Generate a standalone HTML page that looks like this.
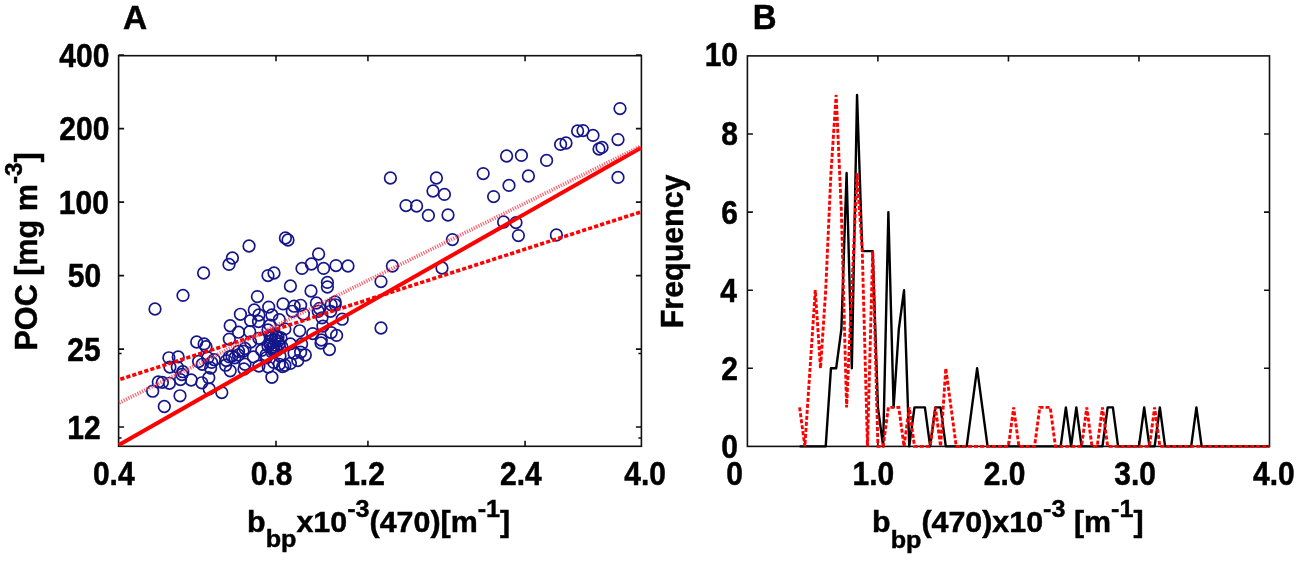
<!DOCTYPE html>
<html><head><meta charset="utf-8"><title>POC vs bbp</title>
<style>html,body{margin:0;padding:0;background:#fff;}body{width:1299px;height:561px;overflow:hidden;}svg{display:block;will-change:transform;}</style>
</head><body>
<svg width="1299" height="561" viewBox="0 0 1299 561">
<rect width="1299" height="561" fill="#fff"/>
<rect x="118.60" y="55.70" width="522.80" height="390.60" fill="none" stroke="#111" stroke-width="1.6"/>
<path d="M118.60 426.96h5.5M641.40 426.96h-5.5M118.60 349.12h5.5M641.40 349.12h-5.5M118.60 275.61h5.5M641.40 275.61h-5.5M118.60 202.10h5.5M641.40 202.10h-5.5M118.60 128.59h5.5M641.40 128.59h-5.5M118.60 55.08h5.5M641.40 55.08h-5.5M118.60 353.50h3M641.40 353.50h-3M118.60 438.00h3M641.40 438.00h-3M276.01 446.30v-5.5M276.01 55.70v5.5M367.93 446.30v-5.5M367.93 55.70v5.5M525.07 446.30v-5.5M525.07 55.70v5.5" stroke="#111" stroke-width="1.6" fill="none"/>
<g fill="none" stroke="#16168c" stroke-width="1.7">
<circle cx="620.0" cy="108.6" r="5.8"/>
<circle cx="577.6" cy="131.0" r="5.8"/>
<circle cx="583.0" cy="130.6" r="5.8"/>
<circle cx="593.0" cy="135.4" r="5.8"/>
<circle cx="618.0" cy="139.6" r="5.8"/>
<circle cx="560.6" cy="144.4" r="5.8"/>
<circle cx="566.0" cy="143.0" r="5.8"/>
<circle cx="599.0" cy="149.0" r="5.8"/>
<circle cx="602.0" cy="147.4" r="5.8"/>
<circle cx="506.6" cy="156.0" r="5.8"/>
<circle cx="521.4" cy="155.4" r="5.8"/>
<circle cx="546.6" cy="160.4" r="5.8"/>
<circle cx="618.0" cy="177.4" r="5.8"/>
<circle cx="528.4" cy="176.0" r="5.8"/>
<circle cx="483.2" cy="173.6" r="5.8"/>
<circle cx="509.0" cy="185.4" r="5.8"/>
<circle cx="390.4" cy="178.0" r="5.8"/>
<circle cx="436.4" cy="178.0" r="5.8"/>
<circle cx="433.0" cy="191.0" r="5.8"/>
<circle cx="444.4" cy="194.4" r="5.8"/>
<circle cx="493.6" cy="196.6" r="5.8"/>
<circle cx="406.0" cy="205.6" r="5.8"/>
<circle cx="416.6" cy="206.0" r="5.8"/>
<circle cx="428.4" cy="215.4" r="5.8"/>
<circle cx="448.0" cy="215.0" r="5.8"/>
<circle cx="452.4" cy="239.6" r="5.8"/>
<circle cx="503.6" cy="222.0" r="5.8"/>
<circle cx="516.0" cy="222.6" r="5.8"/>
<circle cx="518.4" cy="235.6" r="5.8"/>
<circle cx="556.4" cy="235.0" r="5.8"/>
<circle cx="392.4" cy="266.0" r="5.8"/>
<circle cx="442.0" cy="268.0" r="5.8"/>
<circle cx="381.0" cy="281.6" r="5.8"/>
<circle cx="381.0" cy="328.0" r="5.8"/>
<circle cx="285.4" cy="238.0" r="5.8"/>
<circle cx="288.0" cy="240.0" r="5.8"/>
<circle cx="249.0" cy="246.0" r="5.8"/>
<circle cx="232.4" cy="258.0" r="5.8"/>
<circle cx="229.0" cy="264.4" r="5.8"/>
<circle cx="203.6" cy="273.0" r="5.8"/>
<circle cx="318.6" cy="254.0" r="5.8"/>
<circle cx="311.4" cy="264.0" r="5.8"/>
<circle cx="302.0" cy="268.4" r="5.8"/>
<circle cx="323.6" cy="268.4" r="5.8"/>
<circle cx="336.0" cy="265.6" r="5.8"/>
<circle cx="348.0" cy="266.0" r="5.8"/>
<circle cx="268.0" cy="275.6" r="5.8"/>
<circle cx="274.0" cy="273.0" r="5.8"/>
<circle cx="290.4" cy="286.0" r="5.8"/>
<circle cx="311.0" cy="291.0" r="5.8"/>
<circle cx="327.4" cy="282.4" r="5.8"/>
<circle cx="327.4" cy="287.0" r="5.8"/>
<circle cx="183.0" cy="295.4" r="5.8"/>
<circle cx="155.0" cy="309.0" r="5.8"/>
<circle cx="257.4" cy="296.6" r="5.8"/>
<circle cx="240.4" cy="314.3" r="5.8"/>
<circle cx="230.2" cy="325.7" r="5.8"/>
<circle cx="254.3" cy="310.0" r="5.8"/>
<circle cx="268.7" cy="307.1" r="5.8"/>
<circle cx="283.0" cy="303.9" r="5.8"/>
<circle cx="294.1" cy="306.2" r="5.8"/>
<circle cx="300.6" cy="305.3" r="5.8"/>
<circle cx="316.4" cy="303.0" r="5.8"/>
<circle cx="318.2" cy="311.3" r="5.8"/>
<circle cx="331.2" cy="304.8" r="5.8"/>
<circle cx="250.6" cy="320.6" r="5.8"/>
<circle cx="258.9" cy="315.0" r="5.8"/>
<circle cx="258.5" cy="321.5" r="5.8"/>
<circle cx="271.9" cy="315.0" r="5.8"/>
<circle cx="279.3" cy="319.7" r="5.8"/>
<circle cx="292.3" cy="311.3" r="5.8"/>
<circle cx="303.4" cy="314.1" r="5.8"/>
<circle cx="322.0" cy="317.8" r="5.8"/>
<circle cx="238.5" cy="332.2" r="5.8"/>
<circle cx="249.7" cy="331.7" r="5.8"/>
<circle cx="299.7" cy="330.8" r="5.8"/>
<circle cx="312.7" cy="333.6" r="5.8"/>
<circle cx="322.9" cy="326.1" r="5.8"/>
<circle cx="331.2" cy="332.6" r="5.8"/>
<circle cx="229.3" cy="339.1" r="5.8"/>
<circle cx="284.9" cy="328.9" r="5.8"/>
<circle cx="270.0" cy="325.2" r="5.8"/>
<circle cx="319.5" cy="308.5" r="5.8"/>
<circle cx="335.2" cy="302.0" r="5.8"/>
<circle cx="335.2" cy="304.8" r="5.8"/>
<circle cx="330.6" cy="311.3" r="5.8"/>
<circle cx="342.2" cy="319.2" r="5.8"/>
<circle cx="336.6" cy="335.4" r="5.8"/>
<circle cx="321.3" cy="340.0" r="5.8"/>
<circle cx="229.3" cy="356.9" r="5.8"/>
<circle cx="225.6" cy="365.2" r="5.8"/>
<circle cx="230.2" cy="370.8" r="5.8"/>
<circle cx="234.8" cy="357.8" r="5.8"/>
<circle cx="238.5" cy="351.3" r="5.8"/>
<circle cx="245.0" cy="348.5" r="5.8"/>
<circle cx="245.0" cy="364.3" r="5.8"/>
<circle cx="253.4" cy="356.9" r="5.8"/>
<circle cx="250.6" cy="342.0" r="5.8"/>
<circle cx="258.9" cy="338.3" r="5.8"/>
<circle cx="261.7" cy="350.4" r="5.8"/>
<circle cx="258.9" cy="366.1" r="5.8"/>
<circle cx="266.3" cy="357.8" r="5.8"/>
<circle cx="271.9" cy="377.3" r="5.8"/>
<circle cx="268.2" cy="367.1" r="5.8"/>
<circle cx="273.8" cy="362.4" r="5.8"/>
<circle cx="279.3" cy="364.3" r="5.8"/>
<circle cx="284.9" cy="365.2" r="5.8"/>
<circle cx="290.4" cy="363.4" r="5.8"/>
<circle cx="297.8" cy="360.6" r="5.8"/>
<circle cx="305.3" cy="355.0" r="5.8"/>
<circle cx="300.6" cy="352.2" r="5.8"/>
<circle cx="294.1" cy="353.2" r="5.8"/>
<circle cx="290.4" cy="343.9" r="5.8"/>
<circle cx="301.6" cy="343.9" r="5.8"/>
<circle cx="321.0" cy="343.0" r="5.8"/>
<circle cx="329.4" cy="349.5" r="5.8"/>
<circle cx="271.0" cy="338.0" r="5.8"/>
<circle cx="275.0" cy="340.0" r="5.8"/>
<circle cx="279.0" cy="344.0" r="5.8"/>
<circle cx="273.0" cy="347.0" r="5.8"/>
<circle cx="277.0" cy="350.0" r="5.8"/>
<circle cx="281.0" cy="338.0" r="5.8"/>
<circle cx="270.0" cy="344.0" r="5.8"/>
<circle cx="276.0" cy="336.0" r="5.8"/>
<circle cx="282.0" cy="347.0" r="5.8"/>
<circle cx="272.0" cy="352.0" r="5.8"/>
<circle cx="196.7" cy="342.0" r="5.8"/>
<circle cx="204.1" cy="343.9" r="5.8"/>
<circle cx="206.0" cy="346.7" r="5.8"/>
<circle cx="168.9" cy="357.8" r="5.8"/>
<circle cx="178.2" cy="356.9" r="5.8"/>
<circle cx="169.9" cy="367.1" r="5.8"/>
<circle cx="177.3" cy="367.1" r="5.8"/>
<circle cx="182.8" cy="371.7" r="5.8"/>
<circle cx="198.6" cy="361.5" r="5.8"/>
<circle cx="202.3" cy="364.3" r="5.8"/>
<circle cx="207.8" cy="357.8" r="5.8"/>
<circle cx="211.6" cy="362.4" r="5.8"/>
<circle cx="214.3" cy="359.7" r="5.8"/>
<circle cx="210.6" cy="368.0" r="5.8"/>
<circle cx="226.4" cy="360.6" r="5.8"/>
<circle cx="232.0" cy="356.0" r="5.8"/>
<circle cx="238.4" cy="355.0" r="5.8"/>
<circle cx="243.0" cy="351.3" r="5.8"/>
<circle cx="152.7" cy="391.2" r="5.8"/>
<circle cx="158.3" cy="381.9" r="5.8"/>
<circle cx="162.4" cy="382.4" r="5.8"/>
<circle cx="169.4" cy="383.3" r="5.8"/>
<circle cx="180.5" cy="379.6" r="5.8"/>
<circle cx="181.9" cy="374.5" r="5.8"/>
<circle cx="191.2" cy="380.0" r="5.8"/>
<circle cx="201.8" cy="382.8" r="5.8"/>
<circle cx="208.8" cy="377.7" r="5.8"/>
<circle cx="209.2" cy="388.9" r="5.8"/>
<circle cx="221.8" cy="392.6" r="5.8"/>
<circle cx="180.0" cy="395.8" r="5.8"/>
<circle cx="164.3" cy="406.5" r="5.8"/>
<circle cx="244.0" cy="369.0" r="5.8"/>
<circle cx="282.6" cy="366.6" r="5.8"/>
<circle cx="268.0" cy="346.0" r="5.8"/>
<circle cx="278.0" cy="341.0" r="5.8"/>
<circle cx="272.0" cy="335.0" r="5.8"/>
<circle cx="274.0" cy="351.0" r="5.8"/>
<circle cx="278.0" cy="337.0" r="5.8"/>
<circle cx="268.0" cy="330.0" r="5.8"/>
<circle cx="280.0" cy="356.0" r="5.8"/>
<circle cx="266.0" cy="355.0" r="5.8"/>
<circle cx="274.0" cy="345.0" r="5.8"/>
<circle cx="276.0" cy="349.0" r="5.8"/>
<circle cx="271.0" cy="341.0" r="5.8"/>
</g>
<line x1="118.8" y1="444.9" x2="641.0" y2="147.8" stroke="#ff0000" stroke-width="4.0"/>
<line x1="120.3" y1="379.3" x2="641.0" y2="211.9" stroke="#ff0000" stroke-width="3.6" stroke-dasharray="4.2 2.1"/>
<line x1="119.2" y1="402.8" x2="641.0" y2="146.2" stroke="#ff4050" stroke-width="3.8" stroke-dasharray="1.1 1.45" opacity="0.88"/>
<rect x="747.40" y="55.90" width="522.10" height="390.50" fill="none" stroke="#111" stroke-width="1.6"/>
<path d="M747.40 368.30h5.5M1269.50 368.30h-5.5M747.40 290.20h5.5M1269.50 290.20h-5.5M747.40 212.10h5.5M1269.50 212.10h-5.5M747.40 134.00h5.5M1269.50 134.00h-5.5M877.92 446.40v-5.5M877.92 55.90v5.5M1008.45 446.40v-5.5M1008.45 55.90v5.5M1138.97 446.40v-5.5M1138.97 55.90v5.5" stroke="#111" stroke-width="1.6" fill="none"/>
<polyline points="799.61,446.40 804.83,446.40 810.05,446.40 815.27,446.40 820.49,446.40 825.71,446.40 830.94,368.30 836.16,368.30 841.38,329.25 846.60,173.05 851.82,368.30 857.04,94.95 862.26,251.15 867.48,251.15 872.70,251.15 877.92,407.35 883.15,446.40 888.37,212.10 893.59,407.35 898.81,329.25 904.03,290.20 909.25,446.40 914.47,407.35 919.69,407.35 924.91,407.35 930.13,446.40 935.36,407.35 940.58,407.35 945.80,446.40 951.02,446.40 956.24,446.40 961.46,446.40 966.68,446.40 971.90,407.35 977.12,368.30 982.35,407.35 987.57,446.40 992.79,446.40 998.01,446.40 1003.23,446.40 1008.45,446.40 1013.67,446.40 1018.89,446.40 1024.11,446.40 1029.33,446.40 1034.56,446.40 1039.78,446.40 1045.00,446.40 1050.22,446.40 1055.44,446.40 1060.66,446.40 1065.88,407.35 1071.10,446.40 1076.32,407.35 1081.54,446.40 1086.76,446.40 1091.99,446.40 1097.21,446.40 1102.43,446.40 1107.65,407.35 1112.87,407.35 1118.09,446.40 1123.31,446.40 1128.53,446.40 1133.75,446.40 1138.97,446.40 1144.20,407.35 1149.42,446.40 1154.64,446.40 1159.86,407.35 1165.08,446.40 1170.30,446.40 1175.52,446.40 1180.74,446.40 1185.96,446.40 1191.18,446.40 1196.41,407.35 1201.63,446.40 1206.85,446.40 1212.07,446.40 1217.29,446.40 1222.51,446.40 1227.73,446.40 1232.95,446.40 1238.17,446.40 1243.39,446.40 1248.62,446.40 1253.84,446.40 1259.06,446.40 1264.28,446.40 1269.50,446.40" fill="none" stroke="#000" stroke-width="2.4" stroke-linejoin="round"/>
<polyline points="799.61,407.35 804.83,446.40 810.05,368.30 815.27,290.20 820.49,368.30 825.71,290.20 830.94,173.05 836.16,94.95 841.38,212.10 846.60,407.35 851.82,290.20 857.04,173.05 862.26,251.15 867.48,446.40 872.70,251.15 877.92,446.40 883.15,446.40 888.37,407.35 893.59,407.35 898.81,407.35 904.03,446.40 909.25,407.35 914.47,446.40 919.69,446.40 924.91,446.40 930.13,446.40 935.36,407.35 940.58,446.40 945.80,368.30 951.02,407.35 956.24,446.40 961.46,446.40 966.68,446.40 971.90,446.40 977.12,446.40 982.35,446.40 987.57,446.40 992.79,446.40 998.01,446.40 1003.23,446.40 1008.45,446.40 1013.67,407.35 1018.89,446.40 1024.11,446.40 1029.33,446.40 1034.56,446.40 1039.78,407.35 1045.00,407.35 1050.22,407.35 1055.44,446.40 1060.66,446.40 1065.88,446.40 1071.10,446.40 1076.32,446.40 1081.54,446.40 1086.76,407.35 1091.99,446.40 1097.21,446.40 1102.43,407.35 1107.65,446.40 1112.87,446.40 1118.09,446.40 1123.31,446.40 1128.53,446.40 1133.75,446.40 1138.97,446.40 1144.20,446.40 1149.42,446.40 1154.64,407.35 1159.86,446.40 1165.08,446.40 1170.30,446.40 1175.52,446.40 1180.74,446.40 1185.96,446.40 1191.18,446.40 1196.41,446.40 1201.63,446.40 1206.85,446.40 1212.07,446.40 1217.29,446.40 1222.51,446.40 1227.73,446.40 1232.95,446.40 1238.17,446.40 1243.39,446.40 1248.62,446.40 1253.84,446.40 1259.06,446.40 1264.28,446.40 1269.50,446.40" fill="none" stroke="#ff0000" stroke-width="2.9" stroke-dasharray="4 2"/>
<g style="font-family:'Liberation Sans',sans-serif;font-weight:bold;" fill="#000" stroke="#000" stroke-width="0.45">
<g transform="matrix(1.00000 0 0 1.11000 84.400 66.750)"><text x="0" y="0" text-anchor="middle" style="font-size:30px">400</text></g>
<g transform="matrix(1.00000 0 0 1.11000 84.400 140.400)"><text x="0" y="0" text-anchor="middle" style="font-size:30px">200</text></g>
<g transform="matrix(1.00000 0 0 1.11000 83.900 213.600)"><text x="0" y="0" text-anchor="middle" style="font-size:30px">100</text></g>
<g transform="matrix(1.00000 0 0 1.11000 84.400 287.250)"><text x="0" y="0" text-anchor="middle" style="font-size:30px">50</text></g>
<g transform="matrix(1.00000 0 0 1.11000 83.900 360.500)"><text x="0" y="0" text-anchor="middle" style="font-size:30px">25</text></g>
<g transform="matrix(1.00000 0 0 1.11000 83.900 438.900)"><text x="0" y="0" text-anchor="middle" style="font-size:30px">12</text></g>
<g transform="matrix(1.00000 0 0 1.11000 113.750 484.700)"><text x="0" y="0" text-anchor="middle" style="font-size:30px">0.4</text></g>
<g transform="matrix(1.00000 0 0 1.11000 271.500 484.700)"><text x="0" y="0" text-anchor="middle" style="font-size:30px">0.8</text></g>
<g transform="matrix(1.00000 0 0 1.11000 364.000 484.700)"><text x="0" y="0" text-anchor="middle" style="font-size:30px">1.2</text></g>
<g transform="matrix(1.00000 0 0 1.11000 520.850 484.700)"><text x="0" y="0" text-anchor="middle" style="font-size:30px">2.4</text></g>
<g transform="matrix(1.00000 0 0 1.11000 645.150 484.700)"><text x="0" y="0" text-anchor="middle" style="font-size:30px">4.0</text></g>
<g transform="matrix(1.00000 0 0 1.11000 738.000 66.450)"><text x="0" y="0" text-anchor="end" style="font-size:30px">10</text></g>
<g transform="matrix(1.00000 0 0 1.11000 738.000 144.500)"><text x="0" y="0" text-anchor="end" style="font-size:30px">8</text></g>
<g transform="matrix(1.00000 0 0 1.11000 738.000 223.600)"><text x="0" y="0" text-anchor="end" style="font-size:30px">6</text></g>
<g transform="matrix(1.00000 0 0 1.11000 737.000 302.200)"><text x="0" y="0" text-anchor="end" style="font-size:30px">4</text></g>
<g transform="matrix(1.00000 0 0 1.11000 738.000 379.800)"><text x="0" y="0" text-anchor="end" style="font-size:30px">2</text></g>
<g transform="matrix(1.00000 0 0 1.11000 738.000 457.900)"><text x="0" y="0" text-anchor="end" style="font-size:30px">0</text></g>
<g transform="matrix(1.00000 0 0 1.11000 734.500 484.800)"><text x="0" y="0" text-anchor="middle" style="font-size:30px">0</text></g>
<g transform="matrix(1.00000 0 0 1.11000 873.450 484.800)"><text x="0" y="0" text-anchor="middle" style="font-size:30px">1.0</text></g>
<g transform="matrix(1.00000 0 0 1.11000 1004.600 484.800)"><text x="0" y="0" text-anchor="middle" style="font-size:30px">2.0</text></g>
<g transform="matrix(1.00000 0 0 1.11000 1135.200 484.800)"><text x="0" y="0" text-anchor="middle" style="font-size:30px">3.0</text></g>
<g transform="matrix(1.00000 0 0 1.11000 1273.850 484.800)"><text x="0" y="0" text-anchor="middle" style="font-size:30px">4.0</text></g>
<g transform="matrix(1.04597 0 0 1.03119 123.079 29.288)"><text x="0" y="0" style="font-size:32px">A</text></g>
<g transform="matrix(1.03022 0 0 1.06737 752.752 29.293)"><text x="0" y="0" style="font-size:32px">B</text></g>
<g transform="matrix(1.04919 0 0 1.01376 247.036 532.305)"><text x="0" y="0" style="font-size:29px">b<tspan dy="14.8" style="font-size:24px">bp</tspan><tspan dy="-14.8">x10</tspan><tspan dy="-14.8" style="font-size:24px">-3</tspan><tspan dy="14.8">(470)[m</tspan><tspan dy="-14.8" style="font-size:24px">-1</tspan><tspan dy="14.8">]</tspan></text></g>
<g transform="matrix(1.04844 0 0 1.03253 872.122 532.307)"><text x="0" y="0" style="font-size:29px">b<tspan dy="14.8" style="font-size:24px">bp</tspan><tspan dy="-14.8">(470)x10</tspan><tspan dy="-14.8" style="font-size:24px">-3</tspan><tspan dy="14.8"> [m</tspan><tspan dy="-14.8" style="font-size:24px">-1</tspan><tspan dy="14.8">]</tspan></text></g>
<g transform="matrix(1.01059 0 0 1.01244 36.735 350.519)"><text x="0" y="0" transform="rotate(-90)" style="font-size:30.2px">POC [mg m<tspan dy="-14.8" style="font-size:24px">-3</tspan><tspan dy="14.8">]</tspan></text></g>
<g transform="matrix(1.04000 0 0 1.00000 682.550 328.200)"><text x="0" y="0" transform="rotate(-90)" style="font-size:30.4px">Frequency</text></g>
</g>
</svg>
</body></html>
